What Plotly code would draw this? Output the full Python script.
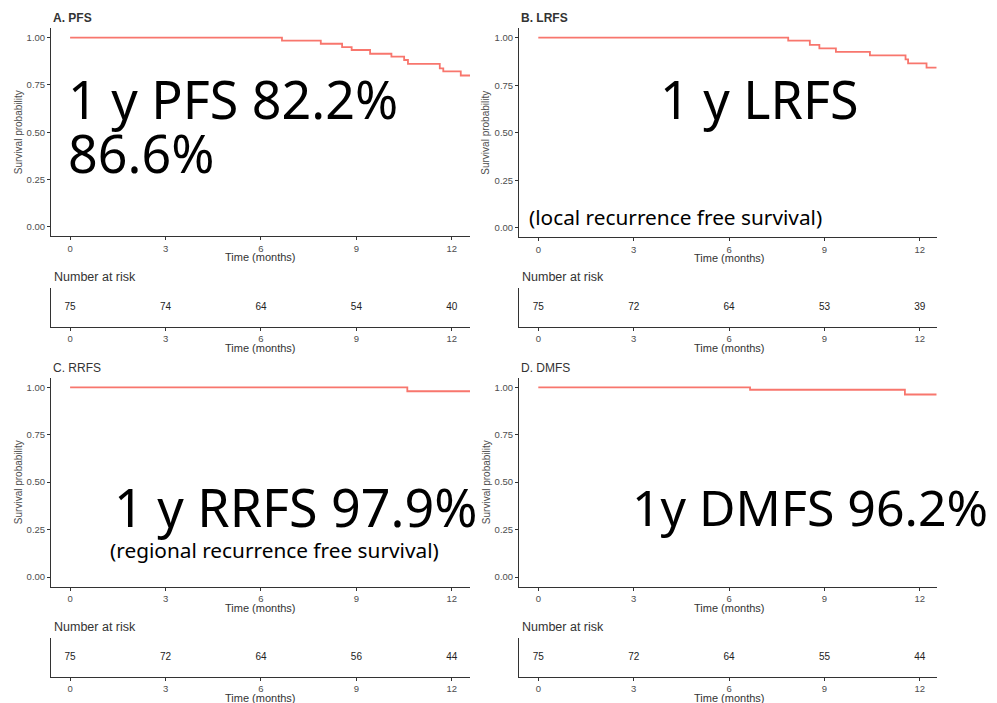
import plotly.graph_objects as go

W, H = 997, 703

# ---------------- data ----------------
months_ticks = [0, 3, 6, 9, 12]
y_ticks = [0.0, 0.25, 0.5, 0.75, 1.0]

t_pfs = [0, 6.66, 7.88, 8.55, 8.85, 9.43, 10.1, 10.5, 10.62, 11.62, 11.73, 12.28, 12.57]
s_pfs = [1.0, 0.985, 0.968, 0.950, 0.935, 0.915, 0.900, 0.882, 0.862, 0.838, 0.822, 0.800, 0.800]

t_lrfs = [0, 7.86, 8.54, 8.84, 9.36, 10.43, 11.55, 11.63, 12.21, 12.53]
s_lrfs = [1.0, 0.985, 0.962, 0.944, 0.925, 0.907, 0.886, 0.865, 0.842, 0.842]

t_rrfs = [0, 10.6, 12.57]
s_rrfs = [1.0, 0.979, 0.979]

t_dmfs = [0, 6.66, 11.53, 12.53]
s_dmfs = [1.0, 0.987, 0.962, 0.962]

risk_pfs = [75, 74, 64, 54, 40]
risk_lrfs = [75, 72, 64, 53, 39]
risk_rrfs = [75, 72, 64, 56, 44]
risk_dmfs = [75, 72, 64, 55, 44]

panel_titles = ["A. PFS", "B. LRFS", "C. RRFS", "D. DMFS"]

LINE = "#F8766D"
AX = "#333333"
TICKC = "#4d4d4d"
FONT = "Liberation Sans"
BIG = "Noto Sans"


def px(x):
    return x / W


def py(y):
    return 1 - y / H


fig = go.Figure()

panels = [
    # (t, s, risk, title, bold, x0, x1, xmin, xmax, main_y0, main_y1, risk_y0, risk_y1)
    (t_pfs, s_pfs, risk_pfs, panel_titles[0], True, 51, 470, -0.6, 12.57, 28.25, 236.15, 288, 327),
    (t_lrfs, s_lrfs, risk_lrfs, panel_titles[1], True, 519, 936.7, -0.607, 12.53, 28.2, 237.2, 288, 327),
    (t_rrfs, s_rrfs, risk_rrfs, panel_titles[2], False, 51, 470, -0.6, 12.57, 377.8, 586.5, 638, 677),
    (t_dmfs, s_dmfs, risk_dmfs, panel_titles[3], False, 519, 936.7, -0.607, 12.53, 377.8, 586.5, 638, 677),
]

layout = dict(
    width=W, height=H, margin=dict(l=0, r=0, t=0, b=0),
    paper_bgcolor="white", plot_bgcolor="white", showlegend=False,
    font=dict(family=FONT, color=AX),
)
annotations = []

for i, (t, s, risk, title, bold, x0, x1, xmin, xmax, my0, my1, ry0, ry1) in enumerate(panels):
    mi = 2 * i + 1
    ri = 2 * i + 2
    mx = "x" if mi == 1 else f"x{mi}"
    myy = "y" if mi == 1 else f"y{mi}"
    rx = f"x{ri}"
    ry = f"y{ri}"
    fig.add_trace(go.Scatter(x=t, y=s, mode="lines", line=dict(color=LINE, width=1.8, shape="hv"),
                             xaxis=mx, yaxis=myy, hoverinfo="skip"))
    fig.add_trace(go.Scatter(x=months_ticks, y=[0.5] * 5, mode="text", text=[str(v) for v in risk],
                             textfont=dict(family=FONT, size=10, color="#222"),
                             xaxis=rx, yaxis=ry, hoverinfo="skip"))
    common_x = dict(range=[xmin, xmax], showline=True, linecolor=AX, linewidth=1,
                    ticks="outside", ticklen=3, tickcolor=AX, tickvals=months_ticks,
                    tickfont=dict(family=FONT, size=9.5, color=TICKC), showgrid=False, zeroline=False)
    layout["xaxis" if mi == 1 else f"xaxis{mi}"] = dict(common_x, domain=[px(x0), px(x1)], anchor=myy)
    layout["yaxis" if mi == 1 else f"yaxis{mi}"] = dict(
        range=[-0.05, 1.05], domain=[py(my1), py(my0)], anchor=mx, showline=True, linecolor=AX,
        linewidth=1, ticks="outside", ticklen=3, tickcolor=AX, tickvals=y_ticks, tickformat=".2f",
        tickfont=dict(family=FONT, size=9.5, color=TICKC), showgrid=False, zeroline=False)
    layout[f"xaxis{ri}"] = dict(common_x, domain=[px(x0), px(x1)], anchor=ry)
    layout[f"yaxis{ri}"] = dict(range=[0, 1], domain=[py(ry1), py(ry0)], anchor=rx, showline=True,
                                linecolor=AX, linewidth=1, showticklabels=False, ticks="",
                                showgrid=False, zeroline=False)
    # panel title
    annotations.append(dict(xref="paper", yref="paper", x=px(x0), y=py(my0 - 10), xanchor="left",
                            yanchor="middle", showarrow=False,
                            text=f"<b>{title}</b>" if bold else title,
                            font=dict(family=FONT, size=12, color=AX)))
    # axis titles
    zero_px = x0 + (0 - xmin) / (xmax - xmin) * (x1 - x0)
    twelve_px = x0 + (12 - xmin) / (xmax - xmin) * (x1 - x0)
    cx = (zero_px + twelve_px) / 2
    annotations.append(dict(xref="paper", yref="paper", x=px(cx), y=py(my1 + 21), xanchor="center",
                            yanchor="middle", showarrow=False, text="Time (months)",
                            font=dict(family=FONT, size=11, color=AX)))
    annotations.append(dict(xref="paper", yref="paper", x=px(cx), y=py(ry1 + 21), xanchor="center",
                            yanchor="middle", showarrow=False, text="Time (months)",
                            font=dict(family=FONT, size=11, color=AX)))
    annotations.append(dict(xref="paper", yref="paper", x=px(x0 - 33), y=py((my0 + my1) / 2),
                            xanchor="center", yanchor="middle", showarrow=False, textangle=-90,
                            text="Survival probability", font=dict(family=FONT, size=10, color=TICKC)))
    annotations.append(dict(xref="paper", yref="paper", x=px(x0 + 1), y=py(ry0 - 11), xanchor="left",
                            yanchor="middle", showarrow=False, text="Number at risk",
                            font=dict(family=FONT, size=12.5, color=AX)))

# big overlay texts
big = [
    ("1 y PFS 82.2%", 66, 99, 52),
    ("86.6%", 66, 152, 52),
    ("1 y LRFS", 658, 99, 52),
    ("1 y RRFS 97.9%", 112, 507, 52),
    ("1y DMFS 96.2%", 630, 507, 50),
]
for txt, x, y, sz in big:
    annotations.append(dict(xref="paper", yref="paper", x=px(x), y=py(y), xanchor="left",
                            yanchor="middle", showarrow=False, text=txt,
                            font=dict(family=BIG, size=sz, color="black")))
small = [
    ("(local recurrence free survival)", 527, 217),
    ("(regional recurrence free survival)", 108, 550),
]
for txt, x, y in small:
    annotations.append(dict(xref="paper", yref="paper", x=px(x), y=py(y), xanchor="left",
                            yanchor="middle", showarrow=False, text=txt,
                            font=dict(family=BIG, size=20.8, color="black")))

layout["annotations"] = annotations
fig.update_layout(**layout)
fig.write_html("out.html")
